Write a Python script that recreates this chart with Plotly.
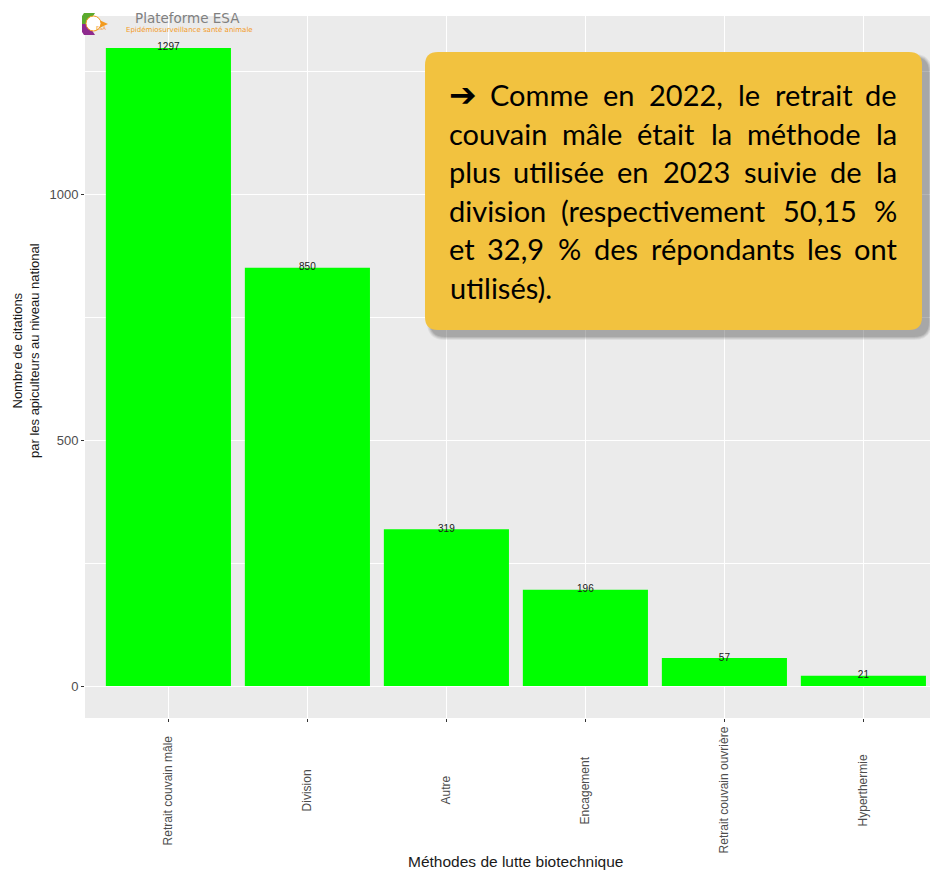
import plotly.graph_objects as go

# ---------------- data ----------------
categories = ["Retrait couvain mâle", "Division", "Autre", "Encagement",
              "Retrait couvain ouvrière", "Hyperthermie"]
citations = [1297, 850, 319, 196, 57, 21]
y_tick_values = [0, 500, 1000]
y_tick_labels = ["0", "500", "1000"]
y_minor_values = [250, 750, 1250]

x_title = "Méthodes de lutte biotechnique"
y_title = "Nombre de citations<br>par les apiculteurs au niveau national"
callout_lines = [
    "➔ Comme en 2022, le retrait de",
    "couvain mâle était la méthode la",
    "plus utilisée en 2023 suivie de la",
    "division (respectivement 50,15 %",
    "et 32,9 % des répondants les ont",
    "utilisés).",
]

# ---------------- layout geometry ----------------
# The page body has an 8px margin, so the figure is drawn 8px smaller and
# every reference pixel position is shifted by OFF.
OFF = 8
FW, FH = 938 - OFF, 871 - OFF
L, R, T, B = 85, 938, 16, 718          # panel edges in reference pixels
W, H = R - L, B - T
STEP = 139.0                            # pixels per category in the reference


def X(px):
    return (px - L) / W


def Y(py):
    return 1 - (py - T) / H


ymax = max(citations) * 1.05
ymin = -max(citations) * 0.05
n = len(categories)

fig = go.Figure()
fig.add_trace(go.Bar(
    x=categories, y=citations, width=0.9,
    marker=dict(color="#00FF00", line=dict(width=0)),
    hoverinfo="x+y",
))
fig.add_trace(go.Scatter(
    x=categories, y=citations, mode="text",
    text=[str(v) for v in citations], textposition="middle center",
    textfont=dict(family="Liberation Sans, Arial, sans-serif", size=10, color="#1a1a1a"),
    hoverinfo="skip",
))

annotations = []
shapes = []

# x category labels (rotated, centred on tick)
for c in categories:
    annotations.append(dict(
        x=c, xref="x", y=Y(790), yref="paper", text=c, textangle=-90,
        showarrow=False, xanchor="center", yanchor="middle",
        font=dict(family="Liberation Sans, Arial, sans-serif", size=12, color="#4D4D4D"),
    ))

# axis titles
annotations.append(dict(
    x=X(515), y=Y(861), xref="paper", yref="paper", text=x_title, showarrow=False,
    xanchor="center", yanchor="middle",
    font=dict(family="Liberation Sans Narrow, Liberation Sans, Arial, sans-serif", size=15.5, color="#1a1a1a"),
))
annotations.append(dict(
    x=X(26), y=Y(351), xref="paper", yref="paper", text=y_title, showarrow=False,
    textangle=-90, xanchor="center", yanchor="middle",
    font=dict(family="Liberation Sans Narrow, Liberation Sans, Arial, sans-serif", size=13, color="#1a1a1a"),
))


# ---------------- callout box ----------------
def rrect(x0, y0, x1, y1, r):
    pts = [
        ("M", [(x0 + r, y0)]), ("L", [(x1 - r, y0)]), ("Q", [(x1, y0), (x1, y0 + r)]),
        ("L", [(x1, y1 - r)]), ("Q", [(x1, y1), (x1 - r, y1)]),
        ("L", [(x0 + r, y1)]), ("Q", [(x0, y1), (x0, y1 - r)]),
        ("L", [(x0, y0 + r)]), ("Q", [(x0, y0), (x0 + r, y0)]),
    ]
    s = ""
    for cmd, ps in pts:
        s += cmd + " " + " ".join(f"{X(px):.5f},{Y(py):.5f}" for px, py in ps) + " "
    return s + "Z"


bx0, by0, bx1, by1 = 425, 52, 922, 330
for k, op in enumerate([0.08, 0.10, 0.12, 0.15]):
    g = 4 - k
    shapes.append(dict(type="path", xref="paper", yref="paper",
                       path=rrect(bx0 + 6 - g, by0 + 6 - g, bx1 + 6 + g, by1 + 6 + g, 14 + g),
                       fillcolor=f"rgba(60,60,60,{op})", line=dict(width=0), layer="above"))
shapes.append(dict(type="path", xref="paper", yref="paper",
                   path=rrect(bx0, by0, bx1, by1, 13),
                   fillcolor="#F2C23F", line=dict(width=0), layer="above"))

# justified text, word by word
cw = {"a": .50, "b": .55, "c": .46, "d": .55, "e": .51, "f": .32, "g": .50, "h": .55,
      "i": .24, "j": .24, "k": .50, "l": .24, "m": .82, "n": .55, "o": .55, "p": .55,
      "q": .55, "r": .36, "s": .42, "t": .35, "u": .55, "v": .50, "w": .76, "x": .49,
      "y": .50, "z": .44, ",": .22, ".": .22, "%": .77, "(": .30, ")": .30, "C": .66,
      "➔": .97, "é": .51, "â": .50}
FS = 29


def wwidth(w):
    return sum(cw.get(ch, .58) for ch in w) * FS


def styled(w):
    if w == "➔":
        return "<span style='font-family:DejaVu Sans;font-size:33px'><b>➔</b></span>"
    return w


tx0, tx1 = 448, 898
line_y0, line_dy = 95, 38.4
tfont = dict(family="Lato, Open Sans, sans-serif", size=FS, color="#000000")
for i, line in enumerate(callout_lines):
    yy = Y(line_y0 + i * line_dy)
    words = line.split(" ")
    if i == len(callout_lines) - 1 or len(words) == 1:
        annotations.append(dict(x=X(tx0), y=yy, xref="paper", yref="paper", text=line,
                                showarrow=False, xanchor="left", yanchor="middle", font=tfont))
        continue
    widths = [wwidth(w) for w in words]
    gap = (tx1 - tx0 - sum(widths)) / (len(words) - 1)
    pos = tx0
    for j, w in enumerate(words):
        if j == 0:
            ax, anc = tx0, "left"
        elif j == len(words) - 1:
            ax, anc = tx1, "right"
        else:
            ax, anc = pos + widths[j] / 2, "center"
        annotations.append(dict(x=X(ax), y=yy, xref="paper", yref="paper", text=styled(w),
                                showarrow=False, xanchor=anc, yanchor="middle",
                                font=tfont, borderpad=0))
        pos += widths[j] + gap


# ---------------- logo ----------------
def poly(points, close=True):
    s = "M " + " L ".join(f"{X(px):.5f},{Y(py):.5f}" for px, py in points)
    return s + (" Z" if close else "")


shapes.append(dict(type="path", xref="paper", yref="paper",
                   path=poly([(84, 13), (108, 24), (84, 35)]),
                   fillcolor="#F39A1E", line=dict(width=0), layer="above"))
shapes.append(dict(type="path", xref="paper", yref="paper",
                   path=poly([(84, 13), (95, 13), (88, 24), (82, 24), (82, 16)]),
                   fillcolor="#5BAA2E", line=dict(width=0), layer="above"))
shapes.append(dict(type="path", xref="paper", yref="paper",
                   path=poly([(82, 24), (88, 24), (95, 35), (84, 35), (82, 32)]),
                   fillcolor="#8E2A8E", line=dict(width=0), layer="above"))
shapes.append(dict(type="circle", xref="paper", yref="paper",
                   x0=X(86), x1=X(101), y0=Y(31), y1=Y(16),
                   fillcolor="white", line=dict(color="#F39A1E", width=1), layer="above"))
annotations.append(dict(x=X(93.5), y=Y(23.5), xref="paper", yref="paper", text="ESA",
                        showarrow=False, font=dict(family="DejaVu Sans", size=5, color="#F39A1E")))
annotations.append(dict(x=X(133), y=Y(18), xref="paper", yref="paper", text="Plateforme ESA",
                        showarrow=False, xanchor="left", yanchor="middle",
                        font=dict(family="DejaVu Sans, sans-serif", size=13.5, color="#808080")))
annotations.append(dict(x=X(124), y=Y(30), xref="paper", yref="paper",
                        text="Epidémiosurveillance santé animale",
                        showarrow=False, xanchor="left", yanchor="middle",
                        font=dict(family="DejaVu Sans, sans-serif", size=7, color="#F39A1E")))

# ---------------- axes & layout ----------------
fig.update_layout(
    width=FW, height=FH,
    margin=dict(l=L - OFF, r=0, t=T - OFF, b=FH - (B - OFF), pad=0),
    paper_bgcolor="white", plot_bgcolor="#EBEBEB",
    showlegend=False, bargap=0.1,
    annotations=annotations, shapes=shapes,
    xaxis=dict(
        type="category", categoryorder="array", categoryarray=categories,
        range=[-0.6, -0.6 + (FW - (L - OFF)) / STEP],
        showgrid=True, gridcolor="white", gridwidth=1.1,
        showticklabels=False, ticks="outside", ticklen=3, tickcolor="#333333",
        zeroline=False, showline=False, fixedrange=True,
    ),
    yaxis=dict(
        range=[ymin, ymax], tickvals=y_tick_values, ticktext=y_tick_labels,
        showgrid=True, gridcolor="white", gridwidth=1.1,
        minor=dict(tickvals=y_minor_values, showgrid=True, gridcolor="white", gridwidth=0.6),
        ticks="outside", ticklen=3, tickcolor="#333333",
        tickfont=dict(family="Liberation Sans, Arial, sans-serif", size=13, color="#4D4D4D"),
        zeroline=False, showline=False, fixedrange=True,
    ),
)

fig.write_html("out.html")
